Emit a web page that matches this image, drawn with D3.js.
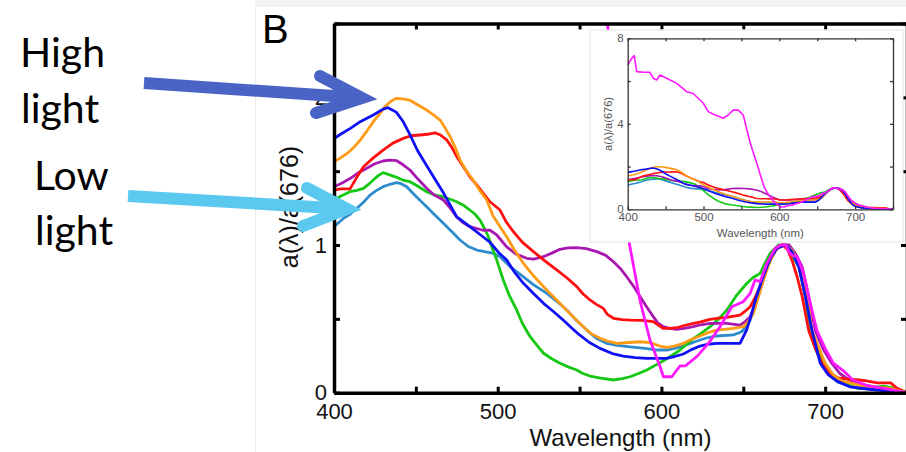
<!DOCTYPE html>
<html lang="en">
<head>
<meta charset="UTF-8" />
<title>Absorption spectra a(λ)/a(676)</title>
<script src="https://cdn.jsdelivr.net/npm/d3@7"></script>
<style>
  body { margin: 0; background: #fff; }
  svg { display: block; }
</style>
</head>
<body>
<script>
// spectra, [wavelength nm, a(λ)/a(676)]
var steelSeries = [[400,1.124],[405.7,1.18],[410,1.21],[413.9,1.248],[418,1.29],[422,1.338],[426,1.37],[430,1.395],[434,1.41],[438.3,1.422],[441,1.415],[444.4,1.395],[450,1.33],[456.6,1.259],[461,1.21],[466.8,1.147],[472,1.09],[477,1.034],[482,0.99],[487.2,0.966],[492,0.955],[497.4,0.944],[501.4,0.921],[508,0.85],[515.7,0.785],[522,0.73],[530,0.673],[536,0.62],[542.2,0.56],[548,0.49],[554.4,0.424],[560,0.37],[566.6,0.334],[573,0.32],[580.9,0.311],[590,0.3],[597.2,0.289],[603.3,0.289],[608,0.3],[613.4,0.316],[618,0.335],[623.6,0.357],[628,0.372],[633.8,0.384],[644,0.391],[649,0.413],[652,0.45],[654.2,0.492],[657,0.58],[660.3,0.695],[663,0.8],[666.4,0.898],[670,0.97],[674,1.0],[677,0.98],[680,0.93],[684,0.85],[688,0.65],[691,0.42],[694,0.3],[698,0.2],[703,0.12],[708,0.07],[720,0.03],[735,0.02],[750,0]];
var greenSeries = [[400,1.305],[404,1.33],[409.8,1.361],[414,1.37],[418,1.384],[421,1.41],[424,1.44],[427,1.47],[430,1.49],[434,1.475],[438.3,1.458],[442,1.44],[446.4,1.429],[451,1.4],[456.6,1.361],[461,1.34],[466.8,1.327],[471,1.31],[475,1.293],[479,1.27],[483,1.237],[486,1.21],[489.2,1.169],[492,1.11],[494.3,1.056],[497,0.97],[499.4,0.898],[503.4,0.763],[507,0.66],[511.6,0.56],[515,0.47],[519.8,0.379],[524,0.32],[528,0.267],[533,0.23],[538.1,0.199],[543,0.175],[548.3,0.154],[552,0.13],[556.4,0.113],[562,0.1],[570.7,0.086],[576,0.095],[580.9,0.108],[586,0.13],[591.1,0.154],[597,0.19],[603.3,0.23],[611.4,0.289],[619.6,0.368],[624,0.4],[629.7,0.447],[635,0.5],[640,0.56],[646,0.661],[652.2,0.741],[656,0.78],[660.3,0.808],[663,0.87],[666.4,0.944],[671.5,1.0],[676,1.0],[680,0.93],[684,0.85],[688,0.65],[691,0.42],[695,0.3],[699,0.2],[703,0.13],[708,0.08],[715,0.05],[720,0.03],[728,0.035],[735.6,0.045],[743,0.03],[750,0]];
var purpleSeries = [[400,1.395],[405,1.42],[409.8,1.45],[415,1.49],[420,1.52],[425,1.55],[430,1.569],[434,1.575],[438.3,1.571],[442,1.545],[446.4,1.508],[451,1.45],[456.6,1.384],[461,1.34],[466.8,1.305],[471,1.25],[475,1.19],[479,1.15],[483,1.124],[491,1.1],[495.3,1.1],[499.4,1.068],[505.5,0.988],[511,0.94],[517.7,0.91],[522,0.905],[527.9,0.921],[533,0.945],[538,0.971],[543,0.98],[548.3,0.982],[554,0.975],[560.5,0.955],[566,0.93],[570.7,0.887],[575,0.84],[578.8,0.785],[583,0.72],[587,0.65],[591,0.58],[595,0.515],[598,0.47],[601.2,0.447],[605,0.435],[609.4,0.429],[614,0.435],[619.5,0.447],[624,0.46],[629.7,0.47],[640,0.47],[648,0.458],[651,0.48],[654.2,0.515],[657,0.59],[660.3,0.695],[663,0.8],[666.4,0.898],[670,0.97],[674,1.0],[678,1.0],[682,0.94],[686,0.85],[690,0.65],[694,0.42],[699,0.29],[704,0.2],[709,0.13],[714,0.09],[725,0.05],[740,0.02],[750,0]];
var redSeries = [[400,1.372],[404,1.38],[409.8,1.38],[414,1.46],[418,1.53],[424,1.59],[430,1.643],[436,1.69],[442.3,1.722],[447,1.74],[452.5,1.745],[457,1.75],[461.7,1.76],[465,1.745],[469,1.71],[472,1.66],[475,1.598],[479,1.53],[483,1.462],[487,1.41],[491.2,1.35],[495.3,1.293],[501.4,1.237],[505,1.16],[509.6,1.09],[515,1.02],[521.8,0.955],[528,0.9],[536,0.831],[542,0.78],[548.3,0.718],[552,0.67],[556.4,0.628],[560,0.6],[564.5,0.571],[567,0.53],[570.7,0.504],[576,0.495],[580.9,0.492],[588,0.49],[595,0.481],[601,0.436],[605,0.435],[609.4,0.44],[614,0.455],[619.5,0.47],[624,0.48],[629.7,0.497],[635,0.505],[640,0.51],[648,0.526],[651,0.55],[654.2,0.582],[657,0.64],[660.3,0.718],[663,0.8],[666.4,0.898],[670,0.97],[674,1.0],[677,0.97],[680,0.89],[683,0.78],[686,0.65],[690,0.42],[694,0.3],[698,0.2],[703,0.13],[708,0.1],[715,0.09],[721,0.086],[725,0.08],[732,0.066],[740,0.066],[744,0.03],[750,0]];
var orangeSeries = [[400,1.564],[404,1.59],[408,1.62],[412,1.66],[416,1.71],[420,1.77],[424,1.835],[428,1.89],[431,1.936],[435,1.975],[438,1.993],[442,1.99],[446.4,1.98],[451,1.95],[456.6,1.914],[461,1.88],[464.8,1.846],[468,1.79],[471,1.733],[474,1.66],[477,1.575],[481,1.5],[485,1.44],[489,1.37],[493.3,1.305],[497,1.2],[501.4,1.124],[505.5,1.056],[510,0.97],[515.7,0.876],[522,0.79],[528,0.718],[534,0.65],[540,0.582],[546,0.515],[552.3,0.447],[557,0.4],[562.5,0.368],[567,0.35],[572.7,0.334],[580,0.34],[587,0.345],[593,0.339],[599,0.316],[603.3,0.307],[608,0.315],[613.4,0.334],[618,0.36],[623.6,0.384],[628,0.405],[633.8,0.424],[644,0.436],[650,0.447],[653,0.48],[656.2,0.537],[659,0.64],[662.3,0.763],[665,0.85],[668.5,0.95],[672,0.99],[676,1.0],[680,0.96],[685,0.85],[689,0.65],[692,0.42],[700,0.2],[705,0.12],[710,0.08],[725,0.04],[740,0.03],[750,0]];
var blueSeries = [[400,1.72],[404,1.75],[410,1.79],[416,1.835],[424,1.88],[430,1.92],[433,1.93],[438,1.9],[442,1.84],[446,1.756],[451,1.64],[457,1.53],[462,1.44],[467,1.35],[471,1.27],[475,1.19],[483,1.124],[491,1.056],[495,1.022],[501,0.944],[505.5,0.898],[510,0.82],[515.7,0.741],[522,0.67],[528,0.605],[534,0.55],[540,0.492],[545,0.44],[550,0.391],[556,0.34],[562.5,0.3],[570,0.265],[576.7,0.248],[584,0.238],[591,0.233],[603,0.233],[608,0.245],[613.4,0.262],[618,0.29],[623.6,0.316],[628,0.328],[634,0.334],[642,0.334],[648,0.334],[652,0.424],[655,0.53],[658,0.65],[661,0.75],[664.4,0.853],[667,0.92],[670.5,0.978],[676,1.0],[680,0.95],[684,0.85],[688,0.65],[692,0.42],[697,0.2],[702,0.12],[707,0.08],[715,0.04],[730,0.02],[750,0]];
var magentaSeries = [[400,6.75],[405.3,7.06],[408.7,7.19],[411.9,6.44],[420.7,6.41],[429.4,6.41],[433.8,6.13],[438.2,6.05],[442.6,6.28],[451.4,6.13],[464.6,5.89],[477.8,5.5],[486.5,5.42],[499.7,4.96],[506.3,4.57],[515.1,4.41],[521.7,4.33],[526,4.26],[532.6,4.41],[539.2,4.64],[545.8,4.64],[552.4,4.41],[561.2,3.16],[567,2.5],[570,2.2],[575,1.6],[580.4,1.01],[587,0.62],[593,0.357],[599.2,0.176],[601.2,0.108],[606.3,0.108],[611.4,0.181],[614.5,0.181],[621.6,0.244],[628.7,0.334],[635.8,0.447],[643,0.582],[650,0.616],[654.2,0.673],[657.2,0.763],[660.3,0.752],[664.4,0.876],[669.5,0.978],[673,1.0],[676,1.0],[678,0.95],[680,0.93],[683,0.92],[687,0.8],[691,0.6],[695,0.42],[700,0.3],[705,0.2],[711,0.15],[717,0.086],[725,0.05],[740,0.02],[750,0]];

var allSeries = [steelSeries, greenSeries, purpleSeries, redSeries, orangeSeries, blueSeries, magentaSeries];
var seriesColors = ["#2e8ccc", "#14c814", "#a818b0", "#ff1010", "#ff9a14", "#1010f5", "#ff18ff"];

var xTicks = [400, 450, 500, 550, 600, 650, 700, 750];
var xTickLabels = ["400", "", "500", "", "600", "", "700", ""];
var yTicks = [0, 0.5, 1, 1.5, 2, 2.5];
var yTickLabels = ["0", "", "1", "", "2", ""];
var insetYTicks = [0, 2, 4, 6, 8];
var insetYTickLabels = ["0", "", "4", "", "8"];

var W = 906, H = 452;
var svg = d3.select("body").append("svg").attr("width", W).attr("height", H);

// faint panel frame from the source figure
svg.append("rect").attr("x", 255).attr("y", 0).attr("width", W - 255).attr("height", 7).attr("fill", "#f3f3f3");
svg.append("line").attr("x1", 255.5).attr("x2", 255.5).attr("y1", 7).attr("y2", H).attr("stroke", "#ececec");

// main plot scales
var x = d3.scaleLinear().domain([400, 750]).range([334, 907]);
var y = d3.scaleLinear().domain([0, 2.5]).range([392.7, 23.5]);

svg.append("defs").append("clipPath").attr("id", "mainClip")
  .append("rect").attr("x", 334).attr("y", 23.5).attr("width", 573).attr("height", 369.2);

var line = d3.line().x(function(d){ return x(d[0]); }).y(function(d){ return y(d[1]); });

svg.append("g").attr("clip-path", "url(#mainClip)")
  .selectAll("path").data(allSeries).enter().append("path")
  .attr("d", line)
  .attr("fill", "none")
  .attr("stroke", function(d, i){ return seriesColors[i]; })
  .attr("stroke-width", 2.8)
  .attr("stroke-linejoin", "round");

// box axes, ticks pointing inwards
function styleAxis(g, fontSize) {
  g.select(".domain").attr("stroke", "#000").attr("stroke-width", 3.5);
  g.selectAll(".tick line").attr("stroke", "#000").attr("stroke-width", 3);
  g.selectAll("text").attr("font-family", "'Liberation Sans', Arial, sans-serif")
    .attr("font-size", fontSize).attr("fill", "#111");
}
svg.append("g").attr("transform", "translate(0," + y(0) + ")")
  .call(d3.axisBottom(x).tickValues(xTicks).tickSizeInner(-6).tickSizeOuter(0).tickPadding(11)
    .tickFormat(function(d, i){ return xTickLabels[i]; }))
  .call(styleAxis, 22);
svg.append("g").attr("transform", "translate(0," + y(2.5) + ")")
  .call(d3.axisTop(x).tickValues(xTicks).tickSizeInner(-6).tickSizeOuter(0).tickFormat(""))
  .call(styleAxis, 22);
svg.append("g").attr("transform", "translate(" + x(400) + ",0)")
  .call(d3.axisLeft(y).tickValues(yTicks).tickSizeInner(-6).tickSizeOuter(0).tickPadding(7)
    .tickFormat(function(d, i){ return yTickLabels[i]; }))
  .call(styleAxis, 22);
svg.append("g").attr("transform", "translate(" + x(750) + ",0)")
  .call(d3.axisRight(y).tickValues(yTicks).tickSizeInner(-6).tickSizeOuter(0).tickFormat(""))
  .call(styleAxis, 22);

svg.append("text").attr("x", (x(400) + x(750)) / 2).attr("y", 446)
  .attr("text-anchor", "middle").attr("font-family", "'Liberation Sans', Arial, sans-serif")
  .attr("font-size", 24).attr("fill", "#111").text("Wavelength (nm)");
svg.append("text").attr("transform", "translate(298,207) rotate(-90)")
  .attr("text-anchor", "middle").attr("font-family", "'Liberation Sans', Arial, sans-serif")
  .attr("font-size", 25).attr("fill", "#111").text("a(λ)/a(676)");

svg.append("text").attr("x", 262).attr("y", 43)
  .attr("font-family", "'Liberation Sans', Arial, sans-serif")
  .attr("font-size", 40).attr("fill", "#000").text("B");

// inset with full magenta range
var inset = svg.append("g");
inset.append("rect").attr("x", 590).attr("y", 30).attr("width", 313).attr("height", 212)
  .attr("fill", "#fff").attr("stroke", "#e4e4e4");
var xi = d3.scaleLinear().domain([400, 750]).range([627.7, 893]);
var yi = d3.scaleLinear().domain([0, 8]).range([209.3, 38.3]);
var lineInset = d3.line().x(function(d){ return xi(d[0]); }).y(function(d){ return yi(d[1]); });

inset.append("g").selectAll("path").data(allSeries).enter().append("path")
  .attr("d", lineInset)
  .attr("fill", "none")
  .attr("stroke", function(d, i){ return seriesColors[i]; })
  .attr("stroke-width", 1.6)
  .attr("stroke-linejoin", "round");

function styleInset(g) {
  g.select(".domain").attr("stroke", "#333").attr("stroke-width", 1.3);
  g.selectAll(".tick line").attr("stroke", "#333").attr("stroke-width", 1.3);
  g.selectAll("text").attr("font-family", "'Liberation Sans', Arial, sans-serif")
    .attr("font-size", 11.5).attr("fill", "#555");
}
inset.append("g").attr("transform", "translate(0," + yi(0) + ")")
  .call(d3.axisBottom(xi).tickValues(xTicks).tickSizeInner(-3).tickSizeOuter(0).tickPadding(4)
    .tickFormat(function(d, i){ return xTickLabels[i]; }))
  .call(styleInset);
inset.append("g").attr("transform", "translate(0," + yi(8) + ")")
  .call(d3.axisTop(xi).tickValues(xTicks).tickSizeInner(-3).tickSizeOuter(0).tickFormat(""))
  .call(styleInset);
inset.append("g").attr("transform", "translate(" + xi(400) + ",0)")
  .call(d3.axisLeft(yi).tickValues(insetYTicks).tickSizeInner(-3).tickSizeOuter(0).tickPadding(4)
    .tickFormat(function(d, i){ return insetYTickLabels[i]; }))
  .call(styleInset);
inset.append("g").attr("transform", "translate(" + xi(750) + ",0)")
  .call(d3.axisRight(yi).tickValues(insetYTicks).tickSizeInner(-3).tickSizeOuter(0).tickFormat(""))
  .call(styleInset);
inset.append("text").attr("x", (xi(400) + xi(750)) / 2).attr("y", 237)
  .attr("text-anchor", "middle").attr("font-family", "'Liberation Sans', Arial, sans-serif")
  .attr("font-size", 11.5).attr("fill", "#555").text("Wavelength (nm)");
inset.append("text").attr("transform", "translate(612,124) rotate(-90)")
  .attr("text-anchor", "middle").attr("font-family", "'Liberation Sans', Arial, sans-serif")
  .attr("font-size", 11).attr("fill", "#555").text("a(λ)/a(676)");

// annotation arrows and labels
function arrow(x0, y0, x1, y1, hx0, hy0, hx1, hy1, color) {
  svg.append("line").attr("x1", x0).attr("y1", y0).attr("x2", x1 - 6).attr("y2", y1 - 0.4)
    .attr("stroke", color).attr("stroke-width", 12);
  svg.append("path").attr("d", "M" + hx0 + "," + hy0 + "L" + x1 + "," + y1 + "L" + hx1 + "," + hy1)
    .attr("fill", "none").attr("stroke", color).attr("stroke-width", 12)
    .attr("stroke-linecap", "round").attr("stroke-linejoin", "miter");
}
arrow(144, 83, 362, 98, 320, 76, 316, 113, "#4a64c6");
arrow(128, 196, 347, 209, 307, 188, 303, 226, "#5bc8ef");

var labelFont = "Lato, 'Open Sans', sans-serif";
[["High", 20, 67], ["light", 21, 123], ["Low", 34, 190], ["light", 35, 245]].forEach(function(t) {
  svg.append("text").attr("x", t[1]).attr("y", t[2]).attr("font-family", labelFont)
    .attr("font-size", 41).attr("fill", "#000").text(t[0]);
});
</script>
</body>
</html>
